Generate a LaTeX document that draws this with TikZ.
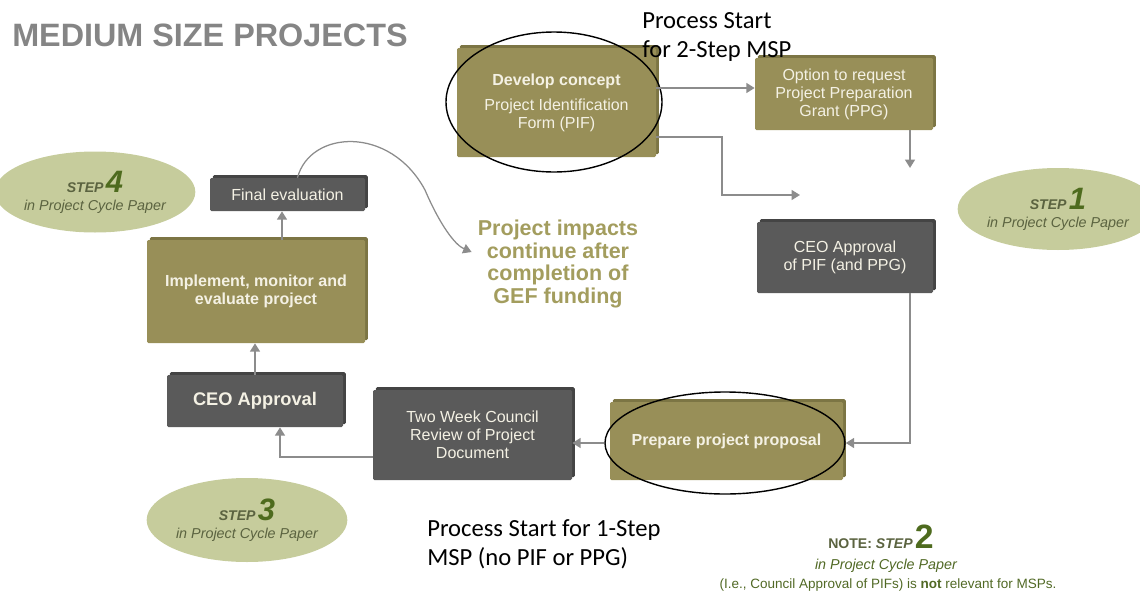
\documentclass[tikz,border=0pt]{standalone}
\usepackage{fontspec}
\setmainfont{Liberation Sans}
\newfontfamily\calibri{Carlito}
\usetikzlibrary{calc, positioning, shapes.geometric, arrows.meta, shadows}

\definecolor{olivebox}{HTML}{988F58}
\definecolor{oliveedge}{HTML}{7C7544}
\definecolor{darkbox}{HTML}{5A5A5A}
\definecolor{darkedge}{HTML}{444444}
\definecolor{boxtext}{HTML}{F4F1E4}
\definecolor{stepfill}{HTML}{C6CC9C}
\definecolor{steptext}{HTML}{5B6340}
\definecolor{stepgreen}{HTML}{4E6B1E}
\definecolor{arrowgray}{HTML}{8C8C8C}
\definecolor{impactolive}{HTML}{A39D5E}
\definecolor{titlegray}{HTML}{858585}

\newcommand\stepmark[1]{{\fontsize{10}{10}\selectfont\bfseries\itshape STEP}\,{\fontsize{22}{18}\selectfont\bfseries\itshape\color{stepgreen}#1}}

\begin{document}
\begin{tikzpicture}[
        x=0.025cm, y=-0.025cm,
        box/.style={rectangle, rounded corners=1pt, inner sep=2pt, align=center,
            text=boxtext, font=\fontsize{11.4}{12.8}\selectfont},
        olive/.style={box, fill=olivebox,
            general shadow={fill=oliveedge, shadow xshift=2pt, shadow yshift=2pt}},
        dark/.style={box, fill=darkbox,
            general shadow={fill=darkedge, shadow xshift=2pt, shadow yshift=2pt}},
        ring/.style={ellipse, draw=black, line width=1pt},
        stepoval/.style={ellipse, fill=stepfill, inner sep=0pt, align=center,
            text=steptext, font=\fontsize{10.2}{13}\selectfont\itshape},
        arr/.style={draw=arrowgray, line width=1.4pt, -{Triangle[width=7pt,length=6pt]}},
        curvearr/.style={draw=arrowgray, line width=0.9pt, -{Triangle[width=7pt,length=6pt]}},
        handtext/.style={align=left, inner sep=0pt, text=black,
            font=\calibri\fontsize{17.5}{20.5}\selectfont},
    ]

    \def\px{0.025cm}

    \useasboundingbox (0,0) rectangle (1140,593);

    \node[anchor=west, inner sep=0pt, text=titlegray,
        font=\fontsize{23}{23}\selectfont\bfseries] (title) at (12,35) {MEDIUM SIZE PROJECTS};

    % boxes
    \node[olive, minimum width={199*\px}, minimum height={109*\px}] (concept) at (556.5,102.5)
        {\textbf{Develop concept}\\[5pt] Project Identification\\ Form (PIF)};
    \node[olive, minimum width={178*\px}, minimum height={72*\px}] (ppg) at (844,94)
        {Option to request\\ Project Preparation\\ Grant (PPG)};
    \node[dark, minimum width={176*\px}, minimum height={71*\px}] (ceopif) at (845,257.5)
        {CEO Approval\\ of PIF (and PPG)};
    \node[olive, minimum width={233*\px}, minimum height={78*\px}] (proposal) at (726.5,441)
        {\textbf{Prepare project proposal}};
    \node[dark, minimum width={199*\px}, minimum height={90*\px}] (council) at (472.5,435)
        {Two Week Council\\ Review of Project\\ Document};
    \node[dark, minimum width={176*\px}, minimum height={52*\px},
        font=\fontsize{13}{15}\selectfont\bfseries] (ceo) at (255,401) {CEO Approval};
    \node[olive, minimum width={218*\px}, minimum height={103*\px}] (implement) at (256,291.5)
        {\textbf{Implement, monitor and}\\ \textbf{evaluate project}};
    \node[dark, minimum width={155*\px}, minimum height={33*\px}] (final) at (287.5,194.5)
        {Final evaluation};

    % hand drawn rings
    \node[ring, minimum width={216*\px}, minimum height={140*\px}] (ring1) at (554,102) {};
    \node[ring, minimum width={240*\px}, minimum height={102*\px}] (ring2) at (725,443) {};

    % step ovals
    \node[stepoval, minimum width={176*\px}, minimum height={81*\px}] (step4) at (95,192)
        {\stepmark{4}\\ in Project Cycle Paper};
    \node[stepoval, minimum width={170*\px}, minimum height={82*\px}] (step1) at (1058,209)
        {\stepmark{1}\\ in Project Cycle Paper};
    \node[stepoval, minimum width={173*\px}, minimum height={84*\px}] (step3) at (247,520)
        {\stepmark{3}\\ in Project Cycle Paper};

    % free texts
    \node[handtext, anchor=west] (start2) at (642,37) {Process Start\\ for 2-Step MSP};
    \node[handtext, anchor=west] (start1) at (427,544) {Process Start for 1-Step\\ MSP (no PIF or PPG)};
    \node[align=center, inner sep=0pt, text=impactolive,
        font=\fontsize{15.3}{16.2}\selectfont\bfseries] (impacts) at (558,264)
        {Project impacts\\ continue after\\ completion of\\ GEF funding};

    \node[inner sep=0pt, text=steptext] (note1) at (881,537)
        {{\fontsize{10}{10}\selectfont\bfseries NOTE: \itshape STEP}\,{\fontsize{24}{20}\selectfont\bfseries\color{stepgreen}2}};
    \node[inner sep=0pt, text=stepgreen!80!steptext, font=\fontsize{10.2}{12}\selectfont\itshape]
        (note2) at (886,566) {in Project Cycle Paper};
    \node[inner sep=0pt, text=stepgreen!80!steptext, font=\fontsize{9.6}{12}\selectfont]
        (note3) at (888,585) {(I.e., Council Approval of PIFs) is \textbf{not} relevant for MSPs.};

    % connectors
    \coordinate (merge) at (800,195);
    \coordinate (join) at (910,168);
    \coordinate (impin) at ($(impacts.west)+(-6,-12)$);

    \draw[arr] ($(concept.east)+(0,-14.5)$) coordinate (c1) -- (c1 -| ppg.west);
    \draw[arr] ($(concept.east)+(0,34.5)$) -- ++(66,0) |- (merge);
    \draw[arr] (ppg.south -| join) -- (join);
    \draw[arr] ($(ceopif.south)+(65,0)$) |- (ring2.east);
    \draw[arr] (ring2.west) -- (ring2.west -| council.east);
    \draw[arr] ($(council.west)+(0,22)$) -| ($(ceo.south)+(25,0)$);
    \draw[arr] (ceo.north) -- (ceo.north |- implement.south);
    \draw[arr] ($(implement.north)+(26,0)$) coordinate (c8) -- (c8 |- final.south);
    \draw[curvearr] ($(final.north)+(10,0)$) .. controls (310,130) and (390,125) .. (425,190)
        .. controls (440,225) and (455,245) .. (impin);

\end{tikzpicture}
\end{document}
